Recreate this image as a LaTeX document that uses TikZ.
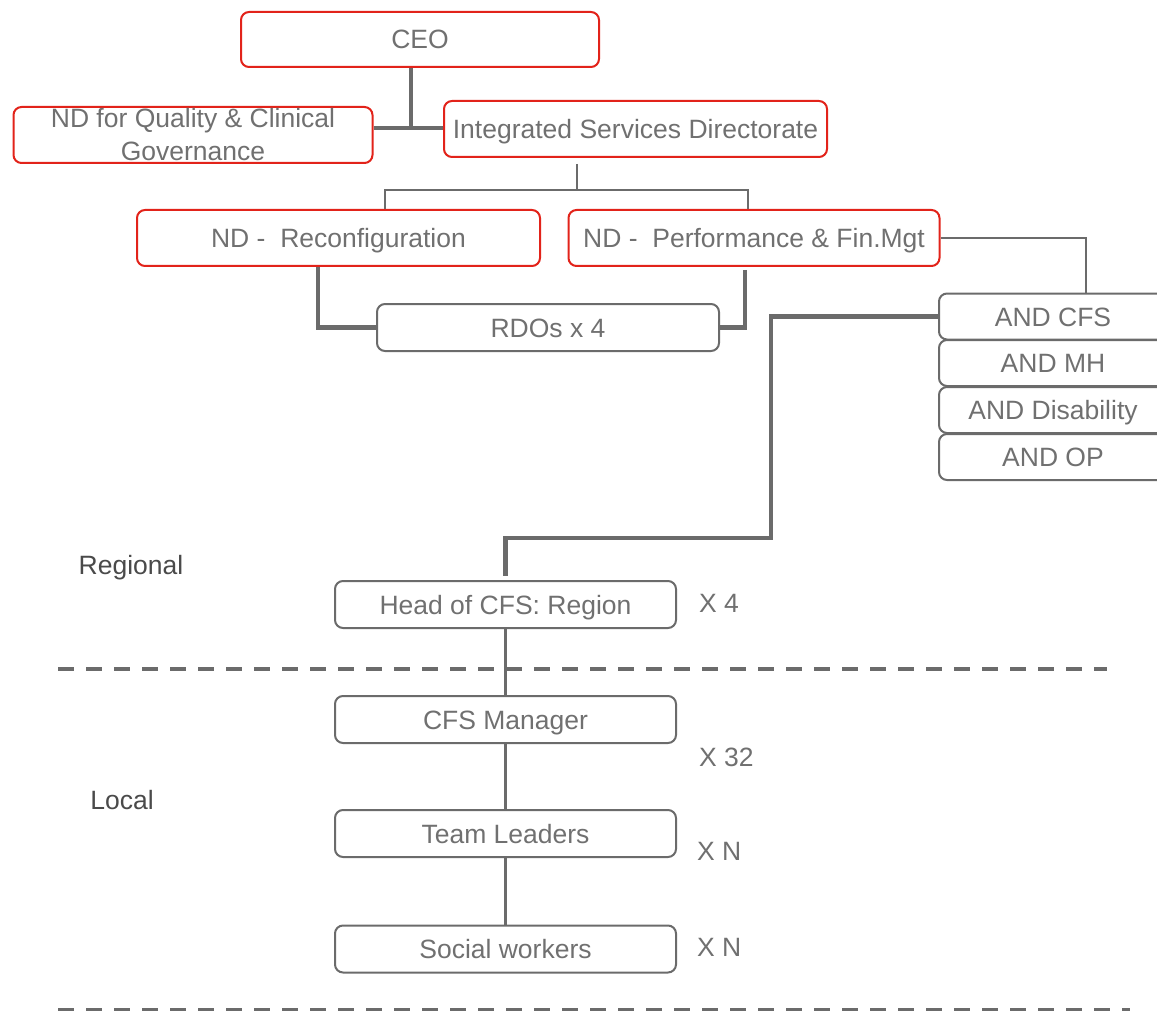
\documentclass[tikz,border=0pt]{standalone}
\usepackage{fontspec}
\setmainfont{Liberation Sans}
\definecolor{boxred}{HTML}{E2231A}
\definecolor{lgray}{HTML}{6B6B6B}
\definecolor{tgray}{HTML}{707070}
\definecolor{dgray}{HTML}{4A4A4A}
\begin{document}
\begin{tikzpicture}[x=1pt,y=-1pt,
  box/.style={draw, rounded corners=8pt, line width=2pt, text=tgray,
    font=\fontsize{26.5}{33}\selectfont, inner sep=0pt, align=center},
  oneline/.style={text height=25pt, text depth=6pt},
  redbox/.style={box, draw=boxred},
  graybox/.style={box, oneline, draw=lgray},
  lbl/.style={text=tgray, font=\fontsize{26.5}{32}\selectfont, inner sep=0pt, anchor=west},
  lvl/.style={text=dgray, font=\fontsize{26.5}{32}\selectfont, inner sep=0pt},
  thickline/.style={draw=lgray, line width=4.5pt},
  thinline/.style={draw=lgray, line width=2.8pt},
  midline/.style={draw=lgray, line width=3.5pt},
  dashline/.style={draw=lgray, line width=4.5pt, dash pattern=on 16pt off 12pt}
]
\useasboundingbox (0,0) rectangle (1157,1011);

% red boxes
\node[redbox, oneline, minimum width=358, minimum height=55] (ceo) at (420,39.5) {CEO};
\node[redbox, minimum width=359, minimum height=56] (ndq) at (193,135) {ND for Quality \& Clinical\\Governance};
\node[redbox, oneline, minimum width=383, minimum height=56] (isd) at (635.5,129) {Integrated Services Directorate};
\node[redbox, oneline, minimum width=403, minimum height=56] (ndr) at (338.5,238) {ND -\ \ Reconfiguration};
\node[redbox, oneline, minimum width=371, minimum height=56] (ndp) at (754,238) {ND -\ \ Performance \& Fin.Mgt};

% gray boxes
\node[graybox, minimum width=342, minimum height=47] (rdo) at (548,327.5) {RDOs x 4};
\node[graybox, minimum width=228, minimum height=46] (andcfs) at (1053,316.5) {AND CFS};
\node[graybox, minimum width=228, minimum height=46] (andmh) at (1053,363) {AND MH};
\node[graybox, minimum width=228, minimum height=46] (anddis) at (1053,410) {AND Disability};
\node[graybox, minimum width=228, minimum height=46] (andop) at (1053,457) {AND OP};

\node[graybox, minimum width=341, minimum height=47] (head) at (505.5,604.5) {Head of CFS: Region};
\node[graybox, minimum width=341, minimum height=47] (cfsm) at (505.5,719.5) {CFS Manager};
\node[graybox, minimum width=341, minimum height=47] (team) at (505.5,833.5) {Team Leaders};
\node[graybox, minimum width=341, minimum height=47] (social) at (505.5,949) {Social workers};

% labels
\node[lvl, oneline] (regional) at (131,565) {Regional};
\node[lvl, oneline] (local) at (122,800) {Local};
\node[lbl, oneline] (x4) at (699,603) {X 4};
\node[lbl, oneline] (x32) at (699,757) {X 32};
\node[lbl, oneline] (xn1) at (697,851) {X N};
\node[lbl, oneline] (xn2) at (697,947) {X N};

% connectors
\coordinate (j1) at (411,128);
\draw[thickline] (ceo.south -| j1) -- (j1);
\draw[thickline] (ndq.east |- j1) -- (isd.west |- j1);

\coordinate (j2) at (577,190);
\coordinate (j3) at (385,190);
\coordinate (j4) at (748,190);
\draw[thinline, shorten <=6pt] (isd.south -| j2) -- (j2);
\draw[thinline] (ndr.north -| j3) -- (j3) -- (j4) -- (ndp.north -| j4);

\coordinate (j5) at (318,327.5);
\draw[thickline] (ndr.south -| j5) -- (j5) -- (rdo.west);
\coordinate (j6) at (745,327.5);
\draw[thickline, shorten <=3pt] (ndp.south -| j6) -- (j6) -- (rdo.east);

\coordinate (j7) at (1086,238);
\draw[thinline] (ndp.east) -- (j7) -- (andcfs.north -| j7);

\coordinate (j8) at (771,538);
\coordinate (j9) at (505.5,538);
\draw[thickline, shorten >=4pt] (andcfs.west) -- (andcfs.west -| j8) -- (j8) -- (j9) -- (head.north);

\draw[midline] (head.south) -- (cfsm.north);
\draw[midline] (cfsm.south) -- (team.north);
\draw[midline] (team.south) -- (social.north);

% level separators
\coordinate (d1a) at (58,669);
\coordinate (d1b) at (1107,669);
\coordinate (d2a) at (58,1010);
\coordinate (d2b) at (1130,1010);
\draw[dashline] (d1a) -- (d1b);
\draw[dashline] (d2a) -- (d2b);
\end{tikzpicture}
\end{document}
